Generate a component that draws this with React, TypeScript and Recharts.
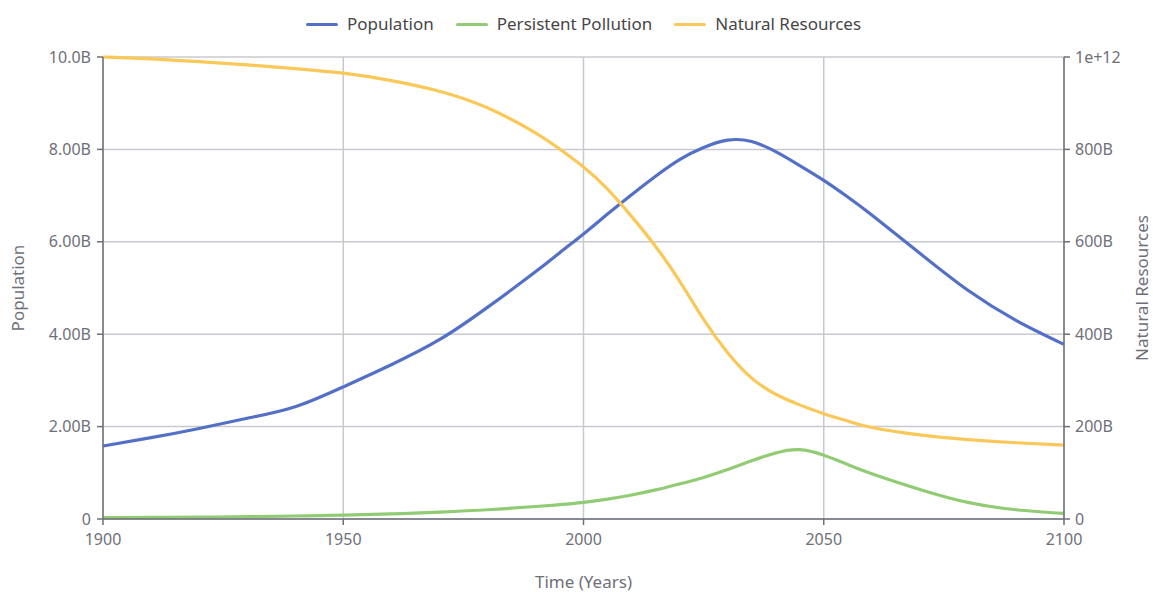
import {
  LineChart,
  Line,
  XAxis,
  YAxis,
  CartesianGrid,
  Legend,
} from "recharts";

const years = [
  1900, 1910, 1920, 1930, 1940, 1950, 1960, 1970, 1980, 1990, 1995, 2000,
  2005, 2010, 2015, 2020, 2025, 2030, 2035, 2040, 2045, 2050, 2055, 2060,
  2070, 2080, 2090, 2100,
];

// billions of people
const population = [
  1.58, 1.76, 1.96, 2.18, 2.43, 2.86, 3.34, 3.88, 4.58, 5.35, 5.76, 6.17,
  6.6, 7.02, 7.42, 7.78, 8.04, 8.2, 8.17, 7.95, 7.65, 7.33, 6.97, 6.58,
  5.75, 4.95, 4.3, 3.78,
];

// billions (left axis)
const pollution = [
  0.03, 0.035, 0.04, 0.05, 0.065, 0.085, 0.11, 0.15, 0.2, 0.27, 0.31, 0.36,
  0.43, 0.52, 0.63, 0.76, 0.9, 1.07, 1.26, 1.43, 1.5, 1.38, 1.18, 0.98,
  0.64, 0.36, 0.2, 0.12,
];

// trillions (right axis)
const resources = [
  1.0, 0.996, 0.99, 0.983, 0.975, 0.965, 0.949, 0.926, 0.89, 0.836, 0.801,
  0.762, 0.714, 0.655, 0.59, 0.515, 0.432, 0.36, 0.305, 0.27, 0.247, 0.228,
  0.212, 0.198, 0.182, 0.172, 0.165, 0.16,
];

const xTicks = [1900, 1950, 2000, 2050, 2100];
const leftTicks = [0, 2e9, 4e9, 6e9, 8e9, 10e9];
const rightTicks = [0, 2e11, 4e11, 6e11, 8e11, 1e12];

const series = [
  { key: "population", name: "Population", color: "#5470c6" },
  { key: "pollution", name: "Persistent Pollution", color: "#91cc75" },
  { key: "resources", name: "Natural Resources", color: "#fac858" },
];

const data = years.map((year, i) => ({
  year,
  population: population[i] * 1e9,
  pollution: pollution[i] * 1e9,
  resources: resources[i] * 1e12,
}));

const fmtLeft = (v: number) => {
  if (v === 0) return "0";
  if (v >= 10e9) return (v / 1e9).toFixed(1) + "B";
  return (v / 1e9).toFixed(2) + "B";
};

const fmtRight = (v: number) => {
  if (v === 0) return "0";
  if (v >= 1e12) return "1e+12";
  return Math.round(v / 1e9) + "B";
};

const font = "'Noto Sans', sans-serif";
const axisColor = "#6e7079";
const tickStyle = { fill: axisColor, fontSize: 16, fontFamily: font };
const labelStyle = {
  fill: axisColor,
  fontSize: 17,
  fontFamily: font,
  textAnchor: "middle" as const,
};

const TopLegend = () => (
  <div style={{ height: 49 }}>
    <div
      style={{
        display: "flex",
        justifyContent: "center",
        fontFamily: font,
        fontSize: 17,
        lineHeight: "24px",
        color: "#464646",
        transform: "translateY(4px)",
      }}
    >
      {series.map((s) => (
        <div
          key={s.key}
          style={{ display: "flex", alignItems: "center", margin: "0 11px" }}
        >
          <span
            style={{
              display: "inline-block",
              width: 32,
              height: 3,
              borderRadius: 2,
              background: s.color,
              marginRight: 9,
            }}
          />
          <span>{s.name}</span>
        </div>
      ))}
    </div>
  </div>
);

export default function App() {
  return (
    <div style={{ position: "absolute", left: 0, top: 0, background: "#fff" }}>
      <LineChart
        width={1153}
        height={592}
        data={data}
        margin={{ top: 8, right: 29, left: 43, bottom: 43 }}
      >
        <CartesianGrid yAxisId="left" stroke="#c8c9cf" strokeWidth={1.5} />
        <Legend verticalAlign="top" content={() => <TopLegend />} />
        <XAxis
          dataKey="year"
          type="number"
          domain={[1900, 2100]}
          ticks={xTicks}
          tick={tickStyle}
          stroke={axisColor}
          strokeWidth={1.5}
          tickSize={6}
          tickMargin={9}
          height={30}
          label={{
            value: "Time (Years)",
            position: "insideBottom",
            offset: -39,
            style: labelStyle,
          }}
        />
        <YAxis
          yAxisId="left"
          domain={[0, 10e9]}
          ticks={leftTicks}
          tickFormatter={fmtLeft}
          tick={tickStyle}
          stroke={axisColor}
          strokeWidth={1.5}
          tickSize={6}
          tickMargin={6}
          width={60}
          label={{
            value: "Population",
            angle: -90,
            position: "insideLeft",
            offset: -25,
            style: labelStyle,
          }}
        />
        <YAxis
          yAxisId="right"
          orientation="right"
          domain={[0, 1e12]}
          ticks={rightTicks}
          tickFormatter={fmtRight}
          tick={tickStyle}
          stroke={axisColor}
          strokeWidth={1.5}
          tickSize={6}
          tickMargin={5}
          width={60}
          label={{
            value: "Natural Resources",
            angle: -90,
            position: "insideRight",
            offset: -18,
            style: labelStyle,
          }}
        />
        <Line
          yAxisId="left"
          type="natural"
          dataKey="population"
          name="Population"
          stroke="#5470c6"
          strokeWidth={3.2}
          dot={false}
          isAnimationActive={false}
        />
        <Line
          yAxisId="left"
          type="natural"
          dataKey="pollution"
          name="Persistent Pollution"
          stroke="#91cc75"
          strokeWidth={3.2}
          dot={false}
          isAnimationActive={false}
        />
        <Line
          yAxisId="right"
          type="natural"
          dataKey="resources"
          name="Natural Resources"
          stroke="#fac858"
          strokeWidth={3.2}
          dot={false}
          isAnimationActive={false}
        />
      </LineChart>
    </div>
  );
}
